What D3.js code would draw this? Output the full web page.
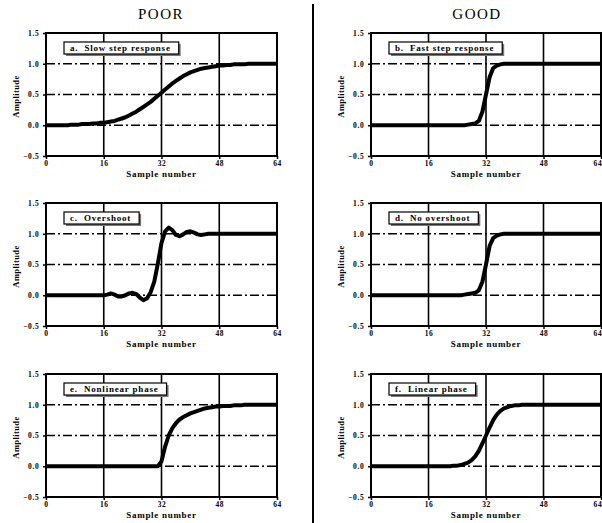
<!DOCTYPE html>
<html lang="en">
	<head>
		<meta charset="utf-8">
		<title>Step response - poor vs good</title>
		<script type="text/javascript" src="https://d3js.org/d3.v7.min.js"></script>
		<style type="text/css">
			body {
				margin: 0;
				background: white;
			}
		</style>
	</head>
	<body>
		<script type="text/javascript">
			// tick labels
			var xTicks = [0, 16, 32, 48, 64];
			var yTicks = [-0.5, 0.0, 0.5, 1.0, 1.5];
			var columnTitles = ["POOR", "GOOD"];
			var panelLabels = ["a.  Slow step response", "b.  Fast step response",
							   "c.  Overshoot", "d.  No overshoot",
							   "e.  Nonlinear phase", "f.  Linear phase"];

			// step responses, sample 0..64
			var slowStep = [0,0,0,0,0,0,0,0.01,0.01,0.01,0.02,0.02,0.02,0.03,0.03,0.04,0.04,
							0.05,0.06,0.07,0.09,0.11,0.13,0.16,0.19,0.22,0.26,0.30,0.34,0.38,0.43,0.48,0.53,
							0.58,0.63,0.68,0.72,0.76,0.80,0.83,0.86,0.88,0.90,0.92,0.93,0.94,0.95,0.96,0.97,
							0.97,0.98,0.98,0.99,0.99,0.99,0.99,1,1,1,1,1,1,1,1,1];
			var fastStep = [0,0,0,0,0,0,0,0,0,0,0,0,0,0,0,0,0,0,0,0,0,0,0,0,0,0,0,0.01,0.02,0.03,0.07,0.22,0.5,
							0.78,0.93,0.97,0.99,1,1,1,1,1,1,1,1,1,1,1,1,1,1,1,1,1,1,1,1,1,1,1,1,1,1,1,1];
			var overshoot = [0,0,0,0,0,0,0,0,0,0,0,0,0,0,0,0,0,
							 0.01,0.03,0.01,-0.02,-0.02,0.0,0.03,0.04,0.02,-0.04,-0.08,-0.05,0.05,0.22,0.52,0.85,
							 1.04,1.1,1.06,0.98,0.96,0.99,1.03,1.04,1.02,0.99,0.98,0.99,1,1,1,1,
							 1,1,1,1,1,1,1,1,1,1,1,1,1,1,1,1];
			var noOvershoot = [0,0,0,0,0,0,0,0,0,0,0,0,0,0,0,0,0,0,0,0,0,0,0,0,0,0,0.01,0.02,0.03,0.04,0.08,0.22,0.5,
							   0.8,0.93,0.97,0.99,1,1,1,1,1,1,1,1,1,1,1,1,1,1,1,1,1,1,1,1,1,1,1,1,1,1,1,1];
			var nonlinearPhase = [0,0,0,0,0,0,0,0,0,0,0,0,0,0,0,0,0,0,0,0,0,0,0,0,0,0,0,0,0,0,0,0,0.08,
								  0.32,0.5,0.62,0.70,0.76,0.80,0.83,0.86,0.88,0.90,0.92,0.94,0.95,0.96,0.97,0.97,
								  0.98,0.98,0.98,0.99,0.99,0.99,1,1,1,1,1,1,1,1,1,1];
			var linearPhase = [0,0,0,0,0,0,0,0,0,0,0,0,0,0,0,0,0,0,0,0,0,0,0,0.01,0.01,0.02,0.04,0.06,0.10,0.16,0.25,0.37,0.5,
							   0.63,0.75,0.84,0.90,0.94,0.96,0.98,0.99,0.99,1,1,1,1,1,1,1,1,1,1,1,1,1,1,1,1,1,1,1,1,1,1,1];

			var series = [slowStep, fastStep, overshoot, noOvershoot, nonlinearPhase, linearPhase];

			//Width and height
			var w = 602;
			var h = 523;
			var svg = d3.select("body")
						.append("svg")
						.attr("width", w)
						.attr("height", h);

			var font = "'Liberation Serif', 'DejaVu Serif', serif";

			// column x-ranges and row tops
			var cols = [{x0: 46, x1: 277}, {x0: 371, x1: 601}];
			var rows = [33, 203, 374];
			var plotH = 123;

			// titles
			svg.selectAll("text.title")
			   .data(columnTitles)
			   .enter()
			   .append("text")
			   .attr("class", "title")
			   .attr("x", function(d, i) { return i == 0 ? 161 : 477; })
			   .attr("y", 19)
			   .attr("text-anchor", "middle")
			   .attr("font-family", font)
			   .attr("font-size", "15px")
			   .attr("letter-spacing", "1.5px")
			   .text(function(d) { return d; });

			// divider
			svg.append("line")
			   .attr("x1", 313).attr("x2", 313)
			   .attr("y1", 4).attr("y2", h)
			   .attr("stroke", "black")
			   .attr("stroke-width", 2);

			for (var p = 0; p < 6; p++) {
				drawPanel(p);
			}

			function drawPanel(p) {
				var c = cols[p % 2];
				var top = rows[Math.floor(p / 2)];
				var x = d3.scaleLinear().domain([0, 64]).range([c.x0, c.x1]);
				var y = d3.scaleLinear().domain([-0.5, 1.5]).range([top + plotH, top]);
				var g = svg.append("g");

				// horizontal dash-dot grid
				g.selectAll("line.hg")
				 .data([0, 0.5, 1.0])
				 .enter()
				 .append("line")
				 .attr("x1", c.x0).attr("x2", c.x1)
				 .attr("y1", function(d) { return y(d); })
				 .attr("y2", function(d) { return y(d); })
				 .attr("stroke", "black")
				 .attr("stroke-width", 1.3)
				 .attr("stroke-dasharray", "9,3,2,3");

				// vertical solid grid
				g.selectAll("line.vg")
				 .data([16, 32, 48])
				 .enter()
				 .append("line")
				 .attr("x1", function(d) { return x(d); })
				 .attr("x2", function(d) { return x(d); })
				 .attr("y1", top).attr("y2", top + plotH)
				 .attr("stroke", "black")
				 .attr("stroke-width", 1.6);

				// axes (ticks + labels)
				var xAxis = d3.axisBottom(x).tickValues(xTicks).tickSize(3).tickFormat(d3.format("d"));
				var yAxis = d3.axisLeft(y).tickValues(yTicks).tickSize(3).tickFormat(d3.format(".1f"));
				var gx = g.append("g").attr("transform", "translate(0," + (top + plotH) + ")").call(xAxis);
				var gy = g.append("g").attr("transform", "translate(" + c.x0 + ",0)").call(yAxis);
				[gx, gy].forEach(function(a) {
					a.select(".domain").remove();
					a.selectAll("line").attr("stroke", "black").attr("stroke-width", 1.5);
					a.selectAll("text")
					 .attr("font-family", font)
					 .attr("font-weight", "bold")
					 .attr("font-size", "7.5px")
					 .attr("letter-spacing", "0.6px")
					 .attr("fill", "black");
				});
				gx.selectAll("text").attr("dy", "0.5em");
				gy.selectAll("text").attr("dx", "-0.1em");
				// right column: last label sits on the window edge, keep it inside
				if (p % 2 == 1) {
					gx.selectAll("text")
					  .filter(function(d) { return d == 64; })
					  .attr("text-anchor", "end")
					  .attr("dx", "0.1em");
				}

				// frame
				g.append("rect")
				 .attr("x", c.x0).attr("y", top)
				 .attr("width", c.x1 - c.x0).attr("height", plotH)
				 .attr("fill", "none")
				 .attr("stroke", "black")
				 .attr("stroke-width", 2);

				// axis titles
				g.append("text")
				 .attr("x", (c.x0 + c.x1) / 2)
				 .attr("y", top + plotH + 21)
				 .attr("text-anchor", "middle")
				 .attr("font-family", font)
				 .attr("font-weight", "bold")
				 .attr("font-size", "9px")
				 .attr("letter-spacing", "0.7px")
				 .text("Sample number");
				g.append("text")
				 .attr("transform", "translate(" + (c.x0 - 27) + "," + (top + plotH / 2 + 2) + ") rotate(-90)")
				 .attr("text-anchor", "middle")
				 .attr("font-family", font)
				 .attr("font-weight", "bold")
				 .attr("font-size", "8.5px")
				 .attr("letter-spacing", "0.4px")
				 .text("Amplitude");

				// the step response
				var line = d3.line()
							 .x(function(d, i) { return x(i); })
							 .y(function(d) { return y(d); });
				g.append("path")
				 .datum(series[p])
				 .attr("d", line)
				 .attr("fill", "none")
				 .attr("stroke", "black")
				 .attr("stroke-width", 4)
				 .attr("stroke-linejoin", "round");

				// label box with small shadow
				var lx = c.x0 + 18;
				var ly = top + 9;
				var shadow = g.append("rect");
				var box = g.append("rect");
				var label = g.append("text")
							 .attr("x", lx + 6)
							 .attr("y", ly + 9)
							 .attr("font-family", font)
							 .attr("font-weight", "bold")
							 .attr("font-size", "9px")
							 .attr("letter-spacing", "0.8px")
							 .attr("xml:space", "preserve")
							 .text(panelLabels[p]);
				var bw = label.node().getComputedTextLength() + 14;
				shadow.attr("x", lx + 2).attr("y", ly + 2)
				 .attr("width", bw).attr("height", 12)
				 .attr("fill", "#777");
				box.attr("x", lx).attr("y", ly)
				 .attr("width", bw).attr("height", 12)
				 .attr("fill", "white")
				 .attr("stroke", "black")
				 .attr("stroke-width", 1.2);
			}
		</script>
	</body>
</html>
